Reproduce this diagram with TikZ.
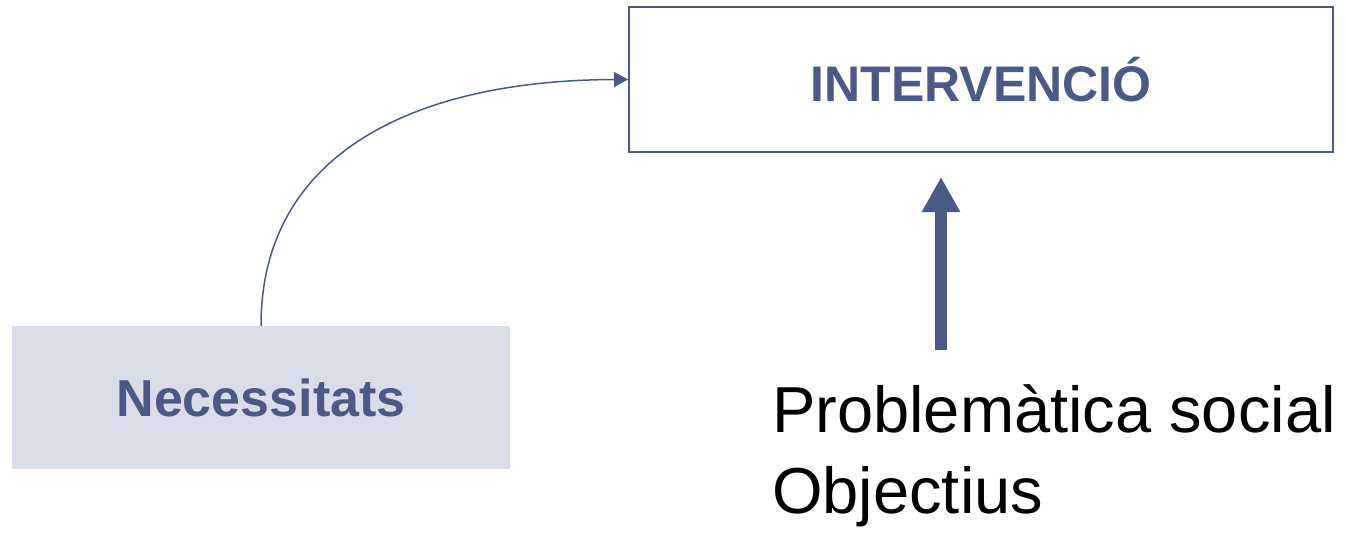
\documentclass[tikz,border=0pt]{standalone}
\usepackage{fontspec}
\setmainfont{Liberation Sans}
\usetikzlibrary{arrows.meta}
\definecolor{slate}{HTML}{4A5A85}
\definecolor{paleslate}{HTML}{D9DDEA}
\begin{document}
\begin{tikzpicture}[x=1pt, y=-1pt,
    outbox/.style={draw=slate, line width=2pt, minimum width=704pt, minimum height=145pt, text=slate, font=\fontsize{50}{60}\selectfont\bfseries},
    needbox/.style={fill=paleslate, minimum width=498pt, minimum height=143pt, text=slate, font=\fontsize{52}{62}\selectfont\bfseries},
    plain/.style={align=left, inner sep=0pt, font=\fontsize{65}{81}\selectfont}]
    \useasboundingbox (0,0) rectangle (1346,535);

    \node[outbox] (int) at (981,79.5) {INTERVENCIÓ};
    \node[needbox] (nec) at (261,397.5) {Necessitats};
    \node[plain, anchor=base west] (prob) at (772,513) {Problemàtica social\\Objectius};

    \coordinate (foot) at (941,350);
    \coordinate (tip) at (941,177);

    \draw[slate, line width=1.5pt, -{Triangle[length=14pt, width=15pt]}]
        (nec.north) .. controls (261,150) and (420,80) .. (int.west);
    \draw[slate, line width=12pt, -{Triangle[length=35pt, width=36pt]}] (foot) -- (tip);

\end{tikzpicture}
\end{document}
